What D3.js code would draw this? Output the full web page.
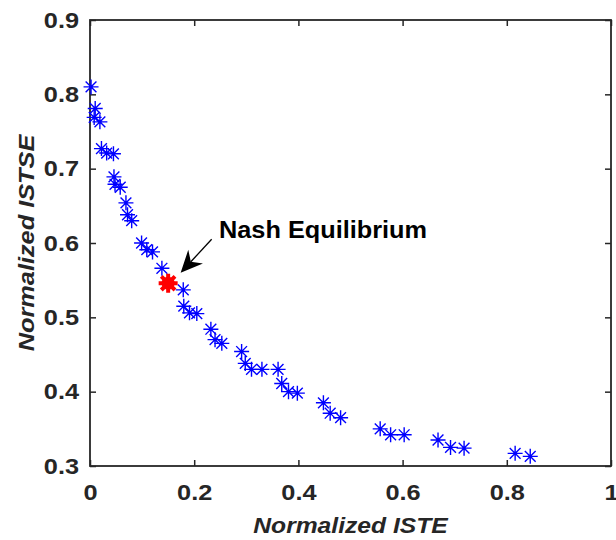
<!DOCTYPE html>
<html>
<head>
<meta charset="utf-8">
<script src="https://cdn.jsdelivr.net/npm/d3@7"></script>
<style>
  body { margin: 0; background: #fff; }
  svg text { font-family: "Liberation Sans", Arial, sans-serif; font-weight: bold; fill: #262626; }
</style>
</head>
<body>
<svg id="chart" width="616" height="540"></svg>
<script>
// values
const isteValues = [0.002, 0.010, 0.008, 0.019, 0.022, 0.032, 0.045, 0.046, 0.048, 0.058,
    0.069, 0.072, 0.080, 0.099, 0.109, 0.120, 0.138, 0.179, 0.180, 0.191,
    0.205, 0.232, 0.240, 0.253, 0.291, 0.298, 0.310, 0.330, 0.361, 0.368,
    0.381, 0.398, 0.448, 0.461, 0.481, 0.557, 0.577, 0.603, 0.668, 0.692,
    0.718, 0.816, 0.845];
const istseValues = [0.810, 0.781, 0.769, 0.763, 0.727, 0.721, 0.720, 0.689, 0.679, 0.675,
    0.654, 0.638, 0.630, 0.600, 0.591, 0.588, 0.566, 0.537, 0.515, 0.506,
    0.505, 0.484, 0.470, 0.465, 0.454, 0.438, 0.430, 0.430, 0.430, 0.411,
    0.400, 0.398, 0.385, 0.371, 0.365, 0.350, 0.342, 0.342, 0.335, 0.325,
    0.324, 0.317, 0.313];
const nashPoint = [0.150, 0.546];
const nashLabel = "Nash Equilibrium";
const labelPos = [0.2476, 0.6067];
const arrowFrom = [0.2335, 0.605];
const arrowTo = [0.174, 0.560];
const xTicks = [0, 0.2, 0.4, 0.6, 0.8, 1];
const yTicks = [0.3, 0.4, 0.5, 0.6, 0.7, 0.8, 0.9];

const svg = d3.select("svg#chart");
const margin = {top: 20, right: 5, bottom: 74, left: 90};
const width = 616 - margin.left - margin.right;
const height = 540 - margin.top - margin.bottom;
const axisColor = "#262626";

const x = d3.scaleLinear().domain([0, 1]).range([0, width]);
const y = d3.scaleLinear().domain([0.3, 0.9]).range([height, 0]);

const g = svg.append("g").attr("transform", `translate(${margin.left},${margin.top})`);

// the original font renders wider than Arial, stretch a bit
function widen(sel, f) {
    sel.each(function () {
        const w = this.getComputedTextLength();
        if (w > 0) {
            d3.select(this).attr("textLength", w * f).attr("lengthAdjust", "spacingAndGlyphs");
        }
    });
}

// tick marks point inward on all four sides (box on)
function styleAxis(sel) {
    sel.select(".domain").remove();
    sel.selectAll("line").attr("stroke", axisColor).attr("stroke-width", 1.5);
    sel.selectAll("text").style("font-size", "22px").attr("fill", axisColor).call(widen, 1.15);
}

g.append("g").attr("transform", `translate(0,${height})`)
    .call(d3.axisBottom(x).tickValues(xTicks).tickSizeInner(-6).tickSizeOuter(0).tickPadding(18).tickFormat(d3.format("")))
    .call(styleAxis);
g.append("g")
    .call(d3.axisTop(x).tickValues(xTicks).tickSizeInner(-6).tickSizeOuter(0).tickFormat(""))
    .call(styleAxis);
g.append("g")
    .call(d3.axisLeft(y).tickValues(yTicks).tickSizeInner(-6).tickSizeOuter(0).tickPadding(11).tickFormat(d3.format(".1f")))
    .call(styleAxis);
g.append("g").attr("transform", `translate(${width},0)`)
    .call(d3.axisRight(y).tickValues(yTicks).tickSizeInner(-6).tickSizeOuter(0).tickFormat(""))
    .call(styleAxis);

g.append("rect")
    .attr("width", width).attr("height", height)
    .attr("fill", "none").attr("stroke", axisColor).attr("stroke-width", 1.8);

// asterisk markers
function asterisk(r) {
    const d = r * 0.72;
    return `M${-r},0L${r},0M0,${-r}L0,${r}M${-d},${-d}L${d},${d}M${-d},${d}L${d},${-d}`;
}

const pts = isteValues.map((v, i) => [v, istseValues[i]]);
g.append("g").selectAll("path").data(pts).join("path")
    .attr("transform", d => `translate(${x(d[0])},${y(d[1])})`)
    .attr("d", asterisk(7.5))
    .attr("fill", "none")
    .attr("stroke", "#0000ff")
    .attr("stroke-width", 1.4);

// Nash point
const nash = g.append("g").attr("transform", `translate(${x(nashPoint[0])},${y(nashPoint[1])})`);
nash.append("circle").attr("r", 6.5).attr("fill", "#ff0000");
nash.append("path").attr("d", asterisk(9.5)).attr("stroke", "#ff0000").attr("stroke-width", 4).attr("fill", "none");

// arrow
const sx = x(arrowFrom[0]), sy = y(arrowFrom[1]);
const tx = x(arrowTo[0]), ty = y(arrowTo[1]);
const len = Math.hypot(tx - sx, ty - sy);
const ux = (tx - sx) / len, uy = (ty - sy) / len;
const nx = -uy, ny = ux;
const L = 22, W = 10, notch = 15;
g.append("line")
    .attr("x1", sx).attr("y1", sy)
    .attr("x2", tx - ux * notch).attr("y2", ty - uy * notch)
    .attr("stroke", "#000").attr("stroke-width", 1.3);
g.append("path")
    .attr("d", `M${tx},${ty}L${tx - ux * L + nx * W},${ty - uy * L + ny * W}L${tx - ux * notch},${ty - uy * notch}L${tx - ux * L - nx * W},${ty - uy * L - ny * W}Z`)
    .attr("fill", "#000");

g.append("text")
    .attr("x", x(labelPos[0])).attr("y", y(labelPos[1]))
    .style("font-size", "23px")
    .style("fill", "#000")
    .text(nashLabel)
    .call(widen, 1.1);

// axis labels
svg.append("text")
    .attr("x", margin.left + width / 2).attr("y", 533)
    .attr("text-anchor", "middle")
    .style("font-size", "22px").style("font-style", "italic")
    .text("Normalized ISTE")
    .call(widen, 1.12);

svg.append("text")
    .attr("transform", `translate(34,${margin.top + height / 2}) rotate(-90)`)
    .attr("text-anchor", "middle")
    .style("font-size", "22px").style("font-style", "italic")
    .text("Normalized ISTSE")
    .call(widen, 1.15);
</script>
</body>
</html>
